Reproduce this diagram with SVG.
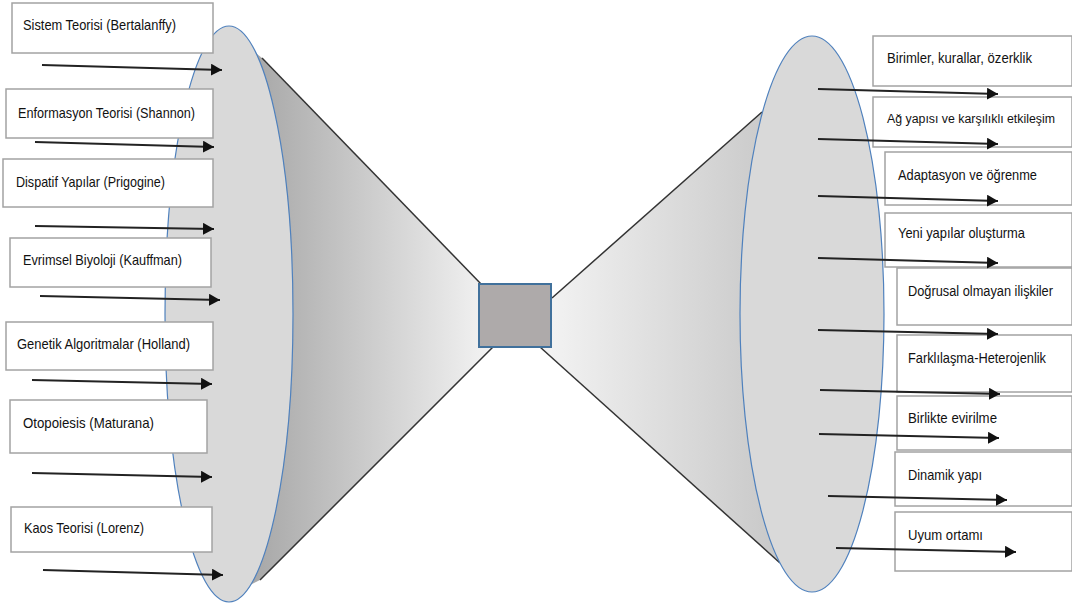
<svg xmlns="http://www.w3.org/2000/svg" width="1072" height="610" viewBox="0 0 1072 610">
  <defs>
    <linearGradient id="gl" x1="0" y1="0" x2="1" y2="0">
      <stop offset="0" stop-color="#a3a3a3"/>
      <stop offset="1" stop-color="#f4f4f4"/>
    </linearGradient>
    <linearGradient id="gr" x1="0" y1="0" x2="1" y2="0">
      <stop offset="0" stop-color="#f4f4f4"/>
      <stop offset="1" stop-color="#c4c4c4"/>
    </linearGradient>
    <marker id="ah" markerWidth="11" markerHeight="12" refX="11" refY="6" orient="auto" markerUnits="userSpaceOnUse">
      <path d="M0,0 L11,6 L0,12 Z" fill="#111"/>
    </marker>
    <style>
      .box { fill: #ffffff; stroke: #a3a3a3; stroke-width: 1.5; }
      .lbl { font-family: "Liberation Sans", Arial, sans-serif; font-size: 15px; fill: #111; }
      .sm { font-size: 12.5px; }
      .md { font-size: 14px; }
      .arr { stroke: #222; stroke-width: 2; fill: none; marker-end: url(#ah); }
      .ell { fill: #d9d9d9; stroke: #4f81bd; stroke-width: 1.2; }
      .side { stroke: #333; stroke-width: 1.5; fill: none; }
    </style>
  </defs>

  <g id="left-cone">
    <polygon points="240,40 262,58 482,285 493,347 260,580 240,590" fill="url(#gl)"/>
    <line class="side" x1="262" y1="58" x2="482" y2="285"/>
    <line class="side" x1="493" y1="347" x2="260" y2="580"/>
    <ellipse class="ell" cx="229" cy="314" rx="64" ry="288"/>
  </g>

  <g id="right-cone">
    <polygon points="552,298 762,112 800,110 800,570 780,563 540,347" fill="url(#gr)"/>
    <line class="side" x1="552" y1="298" x2="762" y2="112"/>
    <line class="side" x1="540" y1="347" x2="780" y2="563"/>
    <ellipse class="ell" cx="812" cy="314" rx="72" ry="278"/>
  </g>

  <g id="center">
    <rect x="479" y="284" width="72" height="63" fill="#aeaaaa" stroke="#41719c" stroke-width="2"/>
  </g>

  <g id="left-nodes">
    <g id="l1"><rect class="box" x="12" y="3" width="201" height="50"/><text class="lbl" x="23" y="30" textLength="153" lengthAdjust="spacingAndGlyphs">Sistem Teorisi (Bertalanffy)</text></g>
    <g id="l2"><rect class="box" x="6" y="89" width="207" height="49"/><text class="lbl" x="18" y="118" textLength="177" lengthAdjust="spacingAndGlyphs">Enformasyon Teorisi (Shannon)</text></g>
    <g id="l3"><rect class="box" x="3" y="159" width="210" height="48"/><text class="lbl" x="16" y="187" textLength="149" lengthAdjust="spacingAndGlyphs">Dispatif Yapılar (Prigogine)</text></g>
    <g id="l4"><rect class="box" x="10" y="238" width="201" height="49"/><text class="lbl" x="23" y="265" textLength="159" lengthAdjust="spacingAndGlyphs">Evrimsel Biyoloji (Kauffman)</text></g>
    <g id="l5"><rect class="box" x="6" y="322" width="207" height="48"/><text class="lbl" x="17" y="349" textLength="173" lengthAdjust="spacingAndGlyphs">Genetik Algoritmalar (Holland)</text></g>
    <g id="l6"><rect class="box" x="10" y="400" width="197" height="53"/><text class="lbl" x="23" y="428" textLength="131" lengthAdjust="spacingAndGlyphs">Otopoiesis  (Maturana)</text></g>
    <g id="l7"><rect class="box" x="11" y="507" width="201" height="45"/><text class="lbl" x="24" y="533" textLength="120" lengthAdjust="spacingAndGlyphs">Kaos Teorisi  (Lorenz)</text></g>
  </g>

  <g id="right-nodes">
    <g id="r1"><rect class="box" x="873" y="36" width="199" height="50"/><text class="lbl" x="887" y="63" textLength="145" lengthAdjust="spacingAndGlyphs">Birimler, kurallar, özerklik</text></g>
    <g id="r2"><rect class="box" x="873" y="97" width="199" height="50"/><text class="lbl sm" x="887" y="123" textLength="168" lengthAdjust="spacingAndGlyphs">Ağ yapısı ve karşılıklı etkileşim</text></g>
    <g id="r3"><rect class="box" x="885" y="152" width="187" height="53"/><text class="lbl" x="898" y="180" textLength="139" lengthAdjust="spacingAndGlyphs">Adaptasyon ve öğrenme</text></g>
    <g id="r4"><rect class="box" x="885" y="213" width="187" height="54"/><text class="lbl" x="898" y="238" textLength="127" lengthAdjust="spacingAndGlyphs">Yeni yapılar oluşturma</text></g>
    <g id="r5"><rect class="box" x="897" y="268" width="175" height="57"/><text class="lbl md" x="908" y="296" textLength="145" lengthAdjust="spacingAndGlyphs">Doğrusal olmayan ilişkiler</text></g>
    <g id="r6"><rect class="box" x="897" y="335" width="175" height="57"/><text class="lbl" x="908" y="363" textLength="138" lengthAdjust="spacingAndGlyphs">Farklılaşma-Heterojenlik</text></g>
    <g id="r7"><rect class="box" x="897" y="396" width="175" height="54"/><text class="lbl" x="908" y="423" textLength="89" lengthAdjust="spacingAndGlyphs">Birlikte evirilme</text></g>
    <g id="r8"><rect class="box" x="895" y="452" width="177" height="54"/><text class="lbl" x="908" y="480" textLength="74" lengthAdjust="spacingAndGlyphs">Dinamik yapı</text></g>
    <g id="r9"><rect class="box" x="895" y="512" width="177" height="59"/><text class="lbl" x="908" y="540" textLength="75" lengthAdjust="spacingAndGlyphs">Uyum ortamı</text></g>
  </g>

  <g id="connectors">
    <line class="arr" x1="42" y1="65" x2="222" y2="70"/>
    <line class="arr" x1="35" y1="142" x2="214" y2="147"/>
    <line class="arr" x1="35" y1="226" x2="214" y2="229"/>
    <line class="arr" x1="40" y1="296" x2="220" y2="300"/>
    <line class="arr" x1="32" y1="380" x2="212" y2="384"/>
    <line class="arr" x1="32" y1="473" x2="212" y2="477"/>
    <line class="arr" x1="43" y1="570" x2="223" y2="575"/>
    <line class="arr" x1="818" y1="89" x2="998" y2="94"/>
    <line class="arr" x1="818" y1="139" x2="998" y2="144"/>
    <line class="arr" x1="818" y1="196" x2="998" y2="201"/>
    <line class="arr" x1="818" y1="258" x2="998" y2="263"/>
    <line class="arr" x1="818" y1="330" x2="998" y2="334"/>
    <line class="arr" x1="820" y1="390" x2="1000" y2="394"/>
    <line class="arr" x1="819" y1="434" x2="999" y2="438"/>
    <line class="arr" x1="828" y1="496" x2="1007" y2="500"/>
    <line class="arr" x1="836" y1="548" x2="1016" y2="552"/>
  </g>
</svg>
